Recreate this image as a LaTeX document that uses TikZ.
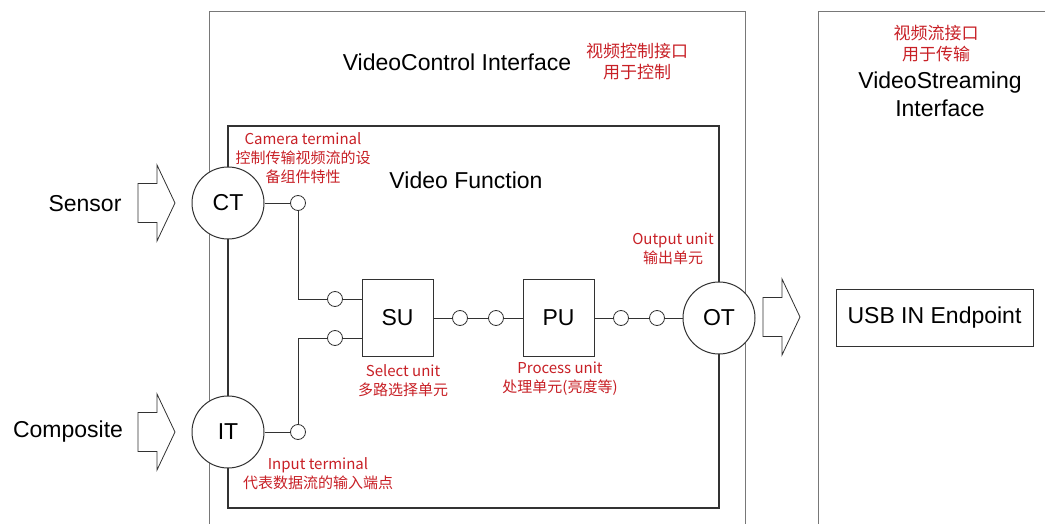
\documentclass[tikz,border=0pt]{standalone}
\usepackage{fontspec}
\setmainfont{Liberation Sans}
\newfontfamily\cjk{Noto Sans CJK SC}
\definecolor{annot}{RGB}{200,32,38}
\definecolor{frame}{RGB}{120,120,120}
\definecolor{ink}{RGB}{50,50,50}
\begin{document}
\begin{tikzpicture}[x=1pt,y=-1pt,
  big/.style={font=\fontsize{23}{28}\selectfont, text=black, inner sep=0pt},
  note/.style={font=\cjk\fontsize{15}{19}\selectfont, text=annot, align=center, inner sep=0pt},
  bignote/.style={font=\cjk\fontsize{17}{21}\selectfont, text=annot, align=center, inner sep=0pt},
  term/.style={circle, draw=ink, line width=1pt, fill=white, minimum size=72pt, inner sep=0pt, font=\fontsize{23}{28}\selectfont},
  port/.style={circle, draw=ink, line width=0.8pt, fill=white, minimum size=15pt, inner sep=0pt},
  unitbox/.style={rectangle, draw=ink, line width=1pt, fill=white, minimum width=71pt, minimum height=77pt, inner sep=0pt, font=\fontsize{23}{28}\selectfont},
  wire/.style={draw=ink, line width=0.8pt},
  blockarr/.pic={\draw[ink, line width=0.8pt, fill=white] (0,-19.5) -- (19,-19.5) -- (19,-38) -- (37,0) -- (19,38) -- (19,19.5) -- (0,19.5) -- cycle;}
]
\useasboundingbox (0,0) rectangle (1045,524);
\fill[white] (0,0) rectangle (1045,524);

% outer interface frames
\draw[frame, line width=1pt] (209,524) -- (209,12) -- (745,12) -- (745,524);
\draw[frame, line width=1pt] (818,524) -- (818,12) -- (1045,12);

% video function box
\draw[ink, line width=1.3pt] (228,126) rectangle (719,508);

% titles
\node[big] (vctitle) at (457,62) {VideoControl Interface};
\node[bignote] (vcnote) at (637,62) {视频控制接口\\用于控制};
\node[bignote] (vsnote) at (936,44) {视频流接口\\用于传输};
\node[big, align=center, font=\fontsize{23}{28}\selectfont] (vstitle) at (940,94) {VideoStreaming\\Interface};
\node[big] (vftitle) at (466,180) {Video Function};

% terminals and units
\node[term] (CT) at (228,203) {CT};
\node[term] (IT) at (228,432) {IT};
\node[term] (OT) at (719,318) {OT};
\node[unitbox] (SU) at (397.5,317.5) {SU};
\node[unitbox] (PU) at (558.5,317.5) {PU};

\node[port] (cto) at (298,203) {};
\node[port] (ito) at (298,432) {};
\node[port] (sui1) at (335,299) {};
\node[port] (sui2) at (335,338) {};
\node[port] (suo) at (460,318) {};
\node[port] (pui) at (496,318) {};
\node[port] (puo) at (621,318) {};
\node[port] (oti) at (657,318) {};

% wires
\draw[wire] (CT) -- (cto);
\draw[wire] (IT) -- (ito);
\draw[wire] (cto.south) |- (sui1.west);
\draw[wire] (ito.north) |- (sui2.west);
\draw[wire] (sui1.east) -- (sui1.east -| SU.west);
\draw[wire] (sui2.east) -- (sui2.east -| SU.west);
\draw[wire] (SU.east |- suo) -- (suo);
\draw[wire] (suo) -- (pui);
\draw[wire] (pui) -- (pui -| PU.west);
\draw[wire] (PU.east |- puo) -- (puo);
\draw[wire] (puo) -- (oti);
\draw[wire] (oti) -- (OT);

% block arrows
\pic at (138,203) {blockarr};
\pic at (138,432) {blockarr};
\pic at (763,317) {blockarr};

% inputs
\node[big] (sensor) at (85,204) {Sensor};
\node[big] (composite) at (68,432) {Composite};

% endpoint
\node[rectangle, draw=ink, line width=1pt, minimum width=197pt, minimum height=57pt, inner sep=0pt, font=\fontsize{23}{28}\selectfont] (usb) at (934.5,317.5) {USB IN Endpoint};

% annotations
\node[note] (ctnote) at (303,158) {Camera terminal\\控制传输视频流的设\\备组件特性};
\node[note] (otnote) at (673,249) {Output unit\\输出单元};
\node[note] (sunote) at (403,381) {Select unit\\多路选择单元};
\node[note] (punote) at (560,379) {Process unit\\处理单元(亮度等)};
\node[note] (itnote) at (318,474) {Input terminal\\代表数据流的输入端点};
\end{tikzpicture}
\end{document}
